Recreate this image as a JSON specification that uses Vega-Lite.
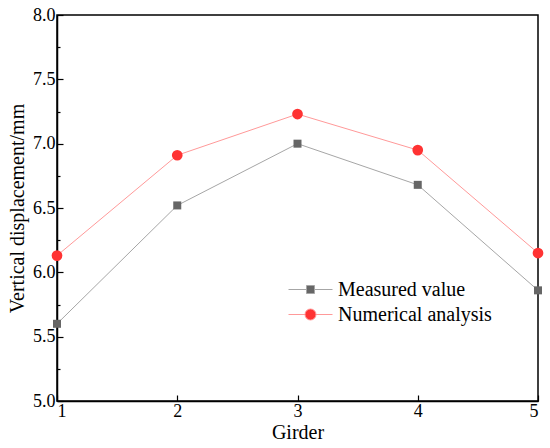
{
  "$schema": "https://vega.github.io/schema/vega-lite/v6.json",
  "width": 481,
  "height": 386,
  "autosize": {"type": "none"},
  "padding": {"left": 57, "top": 15, "right": 12, "bottom": 47},
  "config": {
    "font": "Liberation Serif",
    "view": {"stroke": "black", "strokeWidth": 1.5},
    "axis": {
      "grid": false,
      "domainColor": "black",
      "domainWidth": 1.5,
      "tickColor": "black",
      "tickWidth": 1.2,
      "labelFont": "Liberation Serif",
      "titleFont": "Liberation Serif",
      "labelFontSize": 18,
      "titleFontSize": 20,
      "labelColor": "black",
      "titleColor": "black",
      "titleFontWeight": "normal"
    }
  },
  "data": {
    "values": [
      {"girder": 1, "series": "Measured value", "value": 5.6},
      {"girder": 2, "series": "Measured value", "value": 6.52},
      {"girder": 3, "series": "Measured value", "value": 7.0},
      {"girder": 4, "series": "Measured value", "value": 6.68},
      {"girder": 5, "series": "Measured value", "value": 5.86},
      {"girder": 1, "series": "Numerical analysis", "value": 6.13},
      {"girder": 2, "series": "Numerical analysis", "value": 6.91},
      {"girder": 3, "series": "Numerical analysis", "value": 7.23},
      {"girder": 4, "series": "Numerical analysis", "value": 6.95},
      {"girder": 5, "series": "Numerical analysis", "value": 6.15}
    ]
  },
  "encoding": {
    "x": {
      "field": "girder",
      "type": "quantitative",
      "scale": {"domain": [1, 5], "nice": false, "zero": false},
      "axis": {
        "values": [1, 2, 3, 4, 5],
        "format": "d",
        "tickSize": -6,
        "labelPadding": 7,
        "title": "Girder",
        "titlePadding": 2
      }
    },
    "y": {
      "field": "value",
      "type": "quantitative",
      "scale": {"domain": [5, 8], "nice": false, "zero": false},
      "axis": {
        "values": [5, 5.25, 5.5, 5.75, 6, 6.25, 6.5, 6.75, 7, 7.25, 7.5, 7.75, 8],
        "labelExpr": "datum.value % 0.5 === 0 ? format(datum.value, '.1f') : ''",
        "tickSize": {"condition": {"test": "datum.value % 0.5 === 0", "value": -6}, "value": -3},
        "labelPadding": 8,
        "title": "Vertical displacement/mm",
        "titlePadding": 5
      }
    }
  },
  "resolve": {"legend": {"stroke": "independent", "fill": "independent", "shape": "independent", "size": "independent"}},
  "layer": [
    {
      "mark": {"type": "line", "strokeWidth": 1},
      "encoding": {
        "stroke": {
          "field": "series",
          "type": "nominal",
          "scale": {"domain": ["Measured value", "Numerical analysis"], "range": ["#a6a6a6", "#ff9999"]},
          "legend": {
            "title": null,
            "orient": "none",
            "legendX": 243,
            "legendY": 264,
            "labelFont": "Liberation Serif",
            "labelFontSize": 20,
            "labelColor": "black",
            "symbolSize": 400,
            "labelOffset": 17,
            "rowPadding": 4,
            "encode": {
              "symbols": {
                "update": {
                  "shape": {"signal": "datum.value === 'Measured value' ? 'M-2.2,0L-0.4,0M0.4,0L2.2,0M-0.4,-0.4L0.4,-0.4L0.4,0.4L-0.4,0.4Z' : 'M-2.2,0L-0.55,0M0.55,0L2.2,0M0.55,0A0.55,0.55,0,1,1,-0.55,0A0.55,0.55,0,1,1,0.55,0Z'"},
                  "fill": {"signal": "datum.value === 'Measured value' ? '#666666' : '#ff3333'"},
                  "strokeWidth": {"value": 1},
                  "stroke": {"signal": "datum.value === 'Measured value' ? '#a6a6a6' : '#ff9999'"}
                }
              }
            }
          }
        }
      }
    },
    {
      "mark": {"type": "point", "filled": true, "opacity": 1},
      "encoding": {
        "fill": {
          "field": "series",
          "type": "nominal",
          "scale": {"domain": ["Measured value", "Numerical analysis"], "range": ["#666666", "#ff3333"]},
          "legend": null
        },
        "shape": {
          "field": "series",
          "type": "nominal",
          "scale": {"domain": ["Measured value", "Numerical analysis"], "range": ["square", "circle"]},
          "legend": null
        },
        "size": {
          "field": "series",
          "type": "nominal",
          "scale": {"domain": ["Measured value", "Numerical analysis"], "range": [64, 115]},
          "legend": null
        }
      }
    }
  ]
}
